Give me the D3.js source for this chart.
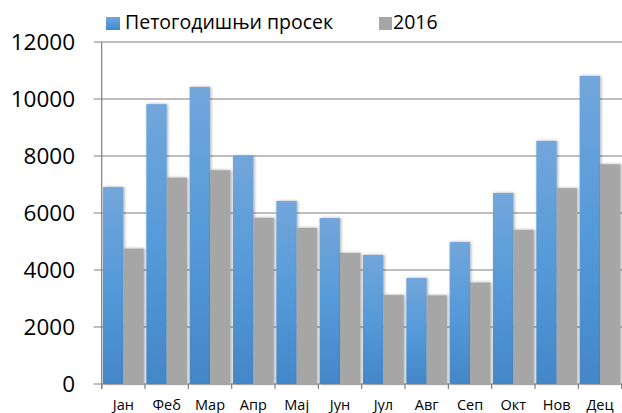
<!DOCTYPE html>
<html lang="sr">
<head>
<meta charset="utf-8">
<title>Петогодишњи просек и 2016</title>
<script src="https://d3js.org/d3.v7.min.js"></script>
<style type="text/css">
  body {
    margin: 0;
    background: #fff;
    font-family: 'Open Sans', 'Liberation Sans', sans-serif;
  }
</style>
</head>
<body>
<div id="chart"></div>
<script>

/* Data */
/* ==== */

var months = ['Јан', 'Феб', 'Мар', 'Апр', 'Мај', 'Јун', 'Јул', 'Авг', 'Сеп', 'Окт', 'Нов', 'Дец'];
var fiveYearAvg = [6910, 9820, 10420, 8000, 6420, 5820, 4530, 3720, 4980, 6700, 8530, 10810];
var year2016 = [4750, 7240, 7500, 5830, 5480, 4600, 3120, 3110, 3560, 5410, 6870, 7710];
var seriesNames = ['Петогодишњи просек', '2016'];
var yTicks = [0, 2000, 4000, 6000, 8000, 10000, 12000];


/* Set up svg and scales */
/* ===================== */

var width = 622,
    height = 413;

var plot = { left: 101.7, right: 621.7, top: 42, bottom: 384 };

var svg = d3.select('#chart').append('svg')
  .attr('width', width)
  .attr('height', height);

var defs = svg.append('defs');

var grad = defs.append('linearGradient')
  .attr('id', 'blue-grad')
  .attr('x1', 0).attr('y1', 0).attr('x2', 0).attr('y2', 1);
grad.append('stop').attr('offset', '0%').attr('stop-color', '#72a6db');
grad.append('stop').attr('offset', '50%').attr('stop-color', '#559ad9');
grad.append('stop').attr('offset', '100%').attr('stop-color', '#4387c8');

var shadow = defs.append('filter')
  .attr('id', 'shadow')
  .attr('x', '-30%').attr('y', '-10%')
  .attr('width', '160%').attr('height', '120%');
shadow.append('feDropShadow')
  .attr('dx', 1).attr('dy', 0)
  .attr('stdDeviation', 1.8)
  .attr('flood-color', '#000')
  .attr('flood-opacity', 0.35);

var x = d3.scaleBand()
  .domain(months)
  .range([plot.left, plot.right])
  .paddingInner(0.06)
  .paddingOuter(0.03);

var xSeries = d3.scaleBand()
  .domain([0, 1])
  .range([0, x.bandwidth()]);

var y = d3.scaleLinear()
  .domain([0, 12000])
  .range([plot.bottom, plot.top]);


/* Gridlines and axes */
/* ================== */

svg.append('g')
  .selectAll('line')
  .data(yTicks)
  .join('line')
  .attr('x1', plot.left - 8)
  .attr('x2', width)
  .attr('y1', function(d) { return y(d); })
  .attr('y2', function(d) { return y(d); })
  .attr('stroke', '#7f7f7f')
  .attr('stroke-width', 1.2);

svg.append('g')
  .selectAll('text')
  .data(yTicks)
  .join('text')
  .attr('x', 75)
  .attr('y', function(d) { return y(d); })
  .attr('dy', '0.36em')
  .attr('text-anchor', 'end')
  .attr('font-size', 22.5)
  .attr('fill', '#000')
  .text(function(d) { return d; });

// category ticks at band edges
var edges = months.map(function(m) { return x(m) - x.step() * x.paddingInner() / 2; });
edges.push(plot.right);

svg.append('g')
  .selectAll('line')
  .data(edges)
  .join('line')
  .attr('x1', function(d) { return d; })
  .attr('x2', function(d) { return d; })
  .attr('y1', plot.bottom)
  .attr('y2', plot.bottom + 5)
  .attr('stroke', '#7f7f7f')
  .attr('stroke-width', 1.2);

svg.append('line')
  .attr('x1', plot.left).attr('x2', plot.left)
  .attr('y1', plot.top).attr('y2', plot.bottom + 5)
  .attr('stroke', '#7f7f7f')
  .attr('stroke-width', 1.2);


/* Bars */
/* ==== */

var groups = svg.append('g')
  .selectAll('g')
  .data(months)
  .join('g')
  .attr('transform', function(d) { return 'translate(' + x(d) + ',0)'; });

groups.append('rect')
  .attr('x', xSeries(0))
  .attr('width', xSeries.bandwidth())
  .attr('y', function(d, i) { return y(fiveYearAvg[i]); })
  .attr('height', function(d, i) { return y(0) - y(fiveYearAvg[i]); })
  .attr('fill', 'url(#blue-grad)')
  .attr('filter', 'url(#shadow)');

groups.append('rect')
  .attr('x', xSeries(1))
  .attr('width', xSeries.bandwidth())
  .attr('y', function(d, i) { return y(year2016[i]); })
  .attr('height', function(d, i) { return y(0) - y(year2016[i]); })
  .attr('fill', '#a6a6a6')
  .attr('filter', 'url(#shadow)');

svg.append('g')
  .selectAll('text')
  .data(months)
  .join('text')
  .attr('x', function(d) { return x(d) + x.bandwidth() / 2; })
  .attr('y', 410)
  .attr('text-anchor', 'middle')
  .attr('font-size', 14.5)
  .attr('fill', '#000')
  .text(function(d) { return d; });


/* Legend */
/* ====== */

var legend = svg.append('g');

legend.append('rect')
  .attr('x', 106).attr('y', 17)
  .attr('width', 14).attr('height', 13)
  .attr('fill', 'url(#blue-grad)');

legend.append('text')
  .attr('x', 125).attr('y', 29)
  .attr('font-size', 19.5)
  .text(seriesNames[0]);

legend.append('rect')
  .attr('x', 379).attr('y', 17)
  .attr('width', 13).attr('height', 13)
  .attr('fill', '#a6a6a6');

legend.append('text')
  .attr('x', 393).attr('y', 29)
  .attr('font-size', 19.5)
  .text(seriesNames[1]);

</script>
</body>
</html>
